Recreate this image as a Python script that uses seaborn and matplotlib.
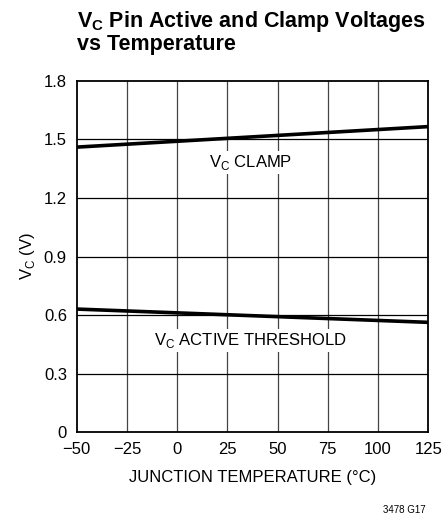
import matplotlib
matplotlib.use("Agg")
import matplotlib.pyplot as plt
import pandas as pd
import seaborn as sns

temps = [-50, 125]
clamp_v = [1.46, 1.565]
active_v = [0.631, 0.563]

x_ticks = [-50, -25, 0, 25, 50, 75, 100, 125]
y_ticks = [0, 0.3, 0.6, 0.9, 1.2, 1.5, 1.8]

df = pd.DataFrame({
    "temp": temps + temps,
    "volts": clamp_v + active_v,
    "curve": ["clamp"] * len(temps) + ["active"] * len(temps),
})

sns.set_style("white")
plt.rcParams["font.family"] = ["Liberation Sans Narrow", "Liberation Sans", "DejaVu Sans"]
plt.rcParams["mathtext.fontset"] = "custom"
plt.rcParams["mathtext.rm"] = "Liberation Sans"
plt.rcParams["text.color"] = "black"
plt.rcParams["axes.labelcolor"] = "black"

fig = plt.figure(figsize=(4.47, 5.19), dpi=100)
ax = fig.add_axes([0.1716, 0.167, 0.958 - 0.1716, 0.8445 - 0.167])

sns.lineplot(data=df, x="temp", y="volts", units="curve", estimator=None,
             color="black", linewidth=2.6, ax=ax, zorder=5)

ax.set_xlim(-50, 125)
ax.set_ylim(0, 1.8)
ax.set_xticks(x_ticks)
ax.set_xticklabels([str(t).replace("-", "\u2212") for t in x_ticks])
ax.set_yticks(y_ticks)
ax.set_yticklabels(["0" if v == 0 else f"{v:.1f}" for v in y_ticks])
ax.tick_params(length=0, labelsize=12, pad=7, colors="black")

for t in x_ticks[1:-1]:
    ax.axvline(t, color="#444444", linewidth=0.9, zorder=1)
for v in y_ticks[1:-1]:
    ax.axhline(v, color="black", linewidth=0.9, zorder=1)

for s in ax.spines.values():
    s.set_color("black")
    s.set_linewidth(1.3)

ax.set_xlabel("JUNCTION TEMPERATURE (°C)", fontsize=12, labelpad=9)
ax.set_ylabel("V$_\\mathregular{C}$ (V)", fontsize=12, labelpad=5)

box = dict(facecolor="white", edgecolor="none", pad=1.5)
ax.text(36.5, 1.38, "V$_\\mathregular{C}$ CLAMP", fontsize=12, ha="center",
        va="center", bbox=box, zorder=3)
ax.text(36.5, 0.472, "V$_\\mathregular{C}$ ACTIVE THRESHOLD", fontsize=12,
        ha="center", va="center", bbox=box, zorder=3)

fig.text(0.172, 0.982, "V$_\\mathregular{C}$ Pin Active and Clamp Voltages\nvs Temperature",
         fontsize=15.5, fontweight="bold", ha="left", va="top", linespacing=1.0)
fig.text(0.952, 0.008, "3478 G17", fontsize=7, ha="right", va="bottom")

fig.savefig("out.png", dpi=100)
